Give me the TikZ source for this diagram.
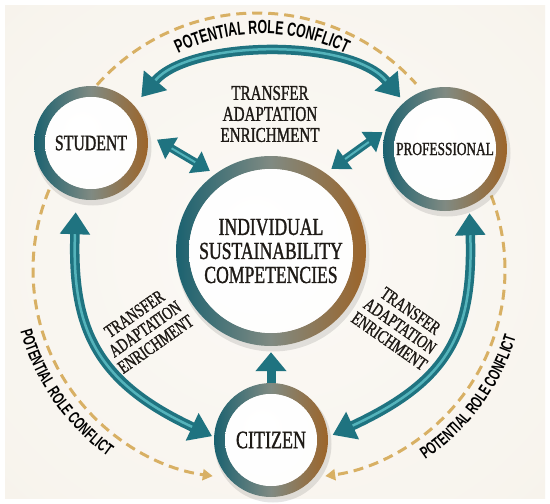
\documentclass[tikz,border=0pt]{standalone}
\usepackage{fontspec}
\newfontfamily\condfont[FakeStretch=0.72,FakeBold=1.2]{Liberation Serif}
\newfontfamily\labfont[FakeStretch=0.65]{Liberation Sans}
\usetikzlibrary{arrows.meta,decorations.text,calc}
\definecolor{bgcream}{HTML}{F1EADE}
\definecolor{bglight}{HTML}{FBF9F5}
\definecolor{ringteal}{HTML}{1B6270}
\definecolor{ringmid}{HTML}{808A82}
\definecolor{ringbronze}{HTML}{9C6429}
\definecolor{arrowteal}{HTML}{1F7380}
\definecolor{arrowlight}{HTML}{62C3CA}
\definecolor{gold}{HTML}{D8B064}
\definecolor{inktext}{HTML}{1E1A16}
\definecolor{discedge}{HTML}{DCD7CF}
\pgfdeclareradialshading{discshade}{\pgfpoint{-6bp}{8bp}}{%
  color(0bp)=(white); color(30bp)=(white!96!discedge); color(45bp)=(white!70!discedge); color(50bp)=(discedge)}
\pgfdeclareradialshading{bgshade}{\pgfpoint{0bp}{0bp}}{%
  color(0bp)=(bglight); color(30bp)=(bglight!70!bgcream); color(70bp)=(bgcream)}
\tikzset{
  BigTip/.tip={Triangle[length=22pt,width=29pt]},
  MidTip/.tip={Triangle[length=17pt,width=24pt]},
  GoldTip/.tip={Triangle[length=10pt,width=11pt]},
  golddash/.style={draw=gold, line width=3pt, dash pattern=on 10pt off 6pt},
  rolenode/.style={circle, inner sep=0pt, text=inktext, align=center},
  flowtext/.style={align=center, text=inktext, font=\condfont\fontsize{#1}{#1}\selectfont},
  tube/.style={draw=arrowteal, line width=#1},
  shine/.style={draw=arrowlight, line width=#1, opacity=0.8},
  conflictlabel/.style={decorate, decoration={text along path, text align=center,
     text={|\labfont\bfseries\fontsize{#1}{#1}\selectfont|POTENTIAL ROLE CONFLICT}}},
}
\newcommand\rolering[4]{%
  \fill[black,opacity=0.10] (#1+2,#2+4) circle ({#3+1.5});
  \shade[even odd rule, left color=ringteal, right color=ringbronze, middle color=ringmid]
     (#1,#2) circle (#3) (#1,#2) circle ({#3-#4});
  \shade[shading=discshade] (#1,#2) circle ({#3-#4});
}
\begin{document}
\begin{tikzpicture}[x=1pt,y=-1pt]
\useasboundingbox (0,0) rectangle (550,504);
\fill[white] (0,0) rectangle (550,504);
\shade[shading=bgshade] (5,5) rectangle (545,498);

% dashed role-conflict arcs
\draw[golddash] (257,227) ++(-138.4:214) arc[start angle=-138.4, end angle=-42, radius=214];
\draw[golddash, -{GoldTip}] (241,270) ++(-157.3:208) arc[start angle=-157.3, end angle=-262.2, radius=208];
\draw[golddash, -{GoldTip}] (297,270) ++(-21:208) arc[start angle=-21, end angle=82.2, radius=208];

% curved labels
\path[conflictlabel=19] (262,227) ++(-150:193) arc[start angle=-150, end angle=-30, radius=193];
\path[conflictlabel=17] (241,270) ++(-180:229) arc[start angle=-180, end angle=-250, radius=229];
\path[conflictlabel=17] (297,270) ++(70:229) arc[start angle=70, end angle=3, radius=229];

% rings
\rolering{91}{143}{57}{11}
\rolering{445}{149}{62}{11}
\rolering{271}{251}{95}{13}
\rolering{271}{440}{57}{11}

% nodes
\node[rolenode, minimum size=114pt, font=\condfont\fontsize{22}{22}\selectfont] (student) at (91,143) {STUDENT};
\node[rolenode, minimum size=124pt, font=\condfont\fontsize{18.5}{18.5}\selectfont] (prof) at (445,149) {PROFESSIONAL};
\node[rolenode, minimum size=190pt, font=\condfont\fontsize{24.5}{24}\selectfont] (isc) at (271,251) {INDIVIDUAL\\SUSTAINABILITY\\COMPETENCIES};
\node[rolenode, minimum size=114pt, font=\condfont\fontsize{25}{25}\selectfont] (citizen) at (271,440) {CITIZEN};

\node[flowtext=21] (flowtop) at (270,114) {TRANSFER\\ADAPTATION\\ENRICHMENT};
\node[flowtext=18.5, rotate=35] (flowleft) at (145,329) {TRANSFER\\ADAPTATION\\ENRICHMENT};
\node[flowtext=18.5, rotate=-35] (flowright) at (400,326) {TRANSFER\\ADAPTATION\\ENRICHMENT};

% teal arrows
\draw[tube=9.5pt, {BigTip}-{BigTip}, shorten <=11pt, shorten >=6pt]
  (student.41) .. controls ($(student.41)+(55,-65)$) and ($(prof.131)+(-55,-65)$) .. (prof.131);
\draw[shine=2.5pt, shorten <=33pt, shorten >=28pt]
  (student.41) .. controls ($(student.41)+(55,-65)$) and ($(prof.131)+(-55,-65)$) .. (prof.131);

\draw[tube=8pt, {MidTip}-{MidTip}, shorten <=11pt, shorten >=6pt] (student.9) -- (isc.126);
\draw[shine=2pt, shorten <=28pt, shorten >=23pt] (student.9) -- (isc.126);
\draw[tube=8pt, {MidTip}-{MidTip}, shorten <=4pt, shorten >=7pt] (prof.162) -- (isc.55);
\draw[shine=2pt, shorten <=21pt, shorten >=24pt] (prof.162) -- (isc.55);

\draw[tube=9.5pt, {BigTip}-{BigTip}, shorten <=14pt, shorten >=2pt]
  (student.255) .. controls ($(student.255)+(-4.5,130)$) and ($(citizen.177)+(-118,-55)$) .. (citizen.177);
\draw[shine=2.5pt, shorten <=36pt, shorten >=24pt]
  (student.255) .. controls ($(student.255)+(-4.5,130)$) and ($(citizen.177)+(-118,-55)$) .. (citizen.177);

\draw[tube=9.5pt, {BigTip}-{BigTip}, shorten <=7pt, shorten >=5pt]
  (prof.293) .. controls ($(prof.293)+(4.5,130)$) and ($(citizen.3)+(118,-55)$) .. (citizen.3);
\draw[shine=2.5pt, shorten <=29pt, shorten >=27pt]
  (prof.293) .. controls ($(prof.293)+(4.5,130)$) and ($(citizen.3)+(118,-55)$) .. (citizen.3);

\draw[tube=9pt, -{Triangle[length=19pt,width=30pt]}, shorten >=6pt] (citizen.90) -- (isc.270);
\end{tikzpicture}
\end{document}
